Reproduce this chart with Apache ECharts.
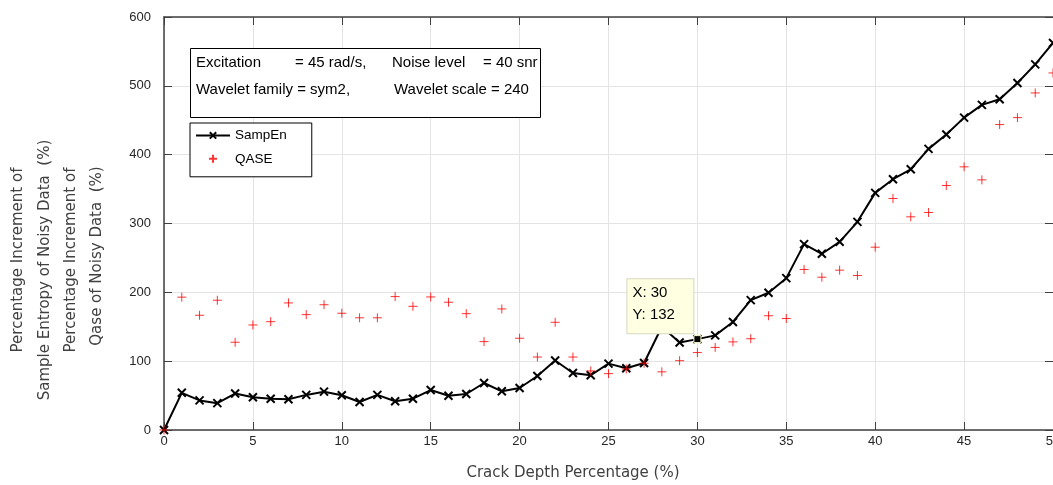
<!DOCTYPE html>
<html><head><meta charset="utf-8">
<script src="https://cdn.jsdelivr.net/npm/echarts/dist/echarts.min.js"></script>
<style>html,body{margin:0;padding:0;background:#fff}#c{width:1053px;height:485px}</style>
</head><body><div id="c"></div>
<script>
const crackDepth = [0,1,2,3,4,5,6,7,8,9,10,11,12,13,14,15,16,17,18,19,20,21,22,23,24,25,26,27,28,29,30,31,32,33,34,35,36,37,38,39,40,41,42,43,44,45,46,47,48,49,50];
const sampEn = [0,54,43,39,53,47.5,45.5,44.6,51,55.7,50.4,40.7,51,41.7,45.5,58,49.7,52.3,68.3,56.2,61,78.5,101,82.8,79.5,96.4,89.6,97.4,150,127,132,137.5,157,188.7,199.4,220.6,270,256,273.4,302.4,344.5,364.3,378.8,408.4,429.2,453.8,472.3,480.4,504.2,531.2,562.3];
const qase = [0,193,166.7,188.5,127.5,152.6,157.4,184.6,167.6,182,169.6,163,163,193.8,179.7,193.3,185.6,169,128.4,175.9,133.3,106,156.5,106,85.8,81.9,88.7,97,84.5,100.7,112.5,120,128,132.6,166,162,233.2,222,232.2,224.5,265.6,336.3,309.7,316,355.2,382.3,363.4,443.7,453.8,489.7,518.7];
const xTickMin = 0, xTickMax = 50, xTickStep = 5;
const yTickMin = 0, yTickMax = 600, yTickStep = 100;
const tipIndex = 30;
const seriesNames = ['SampEn', 'QASE'];
const yLabelLines = ['Percentage Increment of', 'Sample Entropy of Noisy Data  (%)', 'Percentage Increment of', 'Qase of Noisy Data  (%)'];
const xLabel = 'Crack Depth Percentage (%)';
const infoLine1 = ['Excitation', '= 45 rad/s,', 'Noise level', '= 40 snr'];
const infoLine2 = ['Wavelet family = sym2,', 'Wavelet scale = 240'];

const chart = echarts.init(document.getElementById('c'), null, {renderer: 'canvas'});
const axisCol = '#404040';
const gridCol = '#e4e4e4';
const tickFont = 'Liberation Sans, Arial, sans-serif';
const labelFont = 'DejaVu Sans, Verdana, sans-serif';

function xAx(pos, labels) {
  return {type: 'value', min: xTickMin, max: xTickMax, interval: xTickStep, position: pos,
    axisLine: {show: true, onZero: false, lineStyle: {color: axisCol, width: 1.5}},
    axisTick: {show: true, inside: true, length: 8, lineStyle: {color: axisCol, width: 1}},
    axisLabel: {show: labels, margin: 5, fontSize: 13, color: '#262626', fontFamily: tickFont, showMaxLabel: true, showMinLabel: true, hideOverlap: false},
    splitLine: {show: labels, lineStyle: {color: gridCol, width: 1}}};
}
function yAx(pos, labels) {
  return {type: 'value', min: yTickMin, max: yTickMax, interval: yTickStep, position: pos,
    axisLine: {show: labels, onZero: false, lineStyle: {color: axisCol, width: 1.5}},
    axisTick: {show: true, inside: true, length: 8, lineStyle: {color: axisCol, width: 1}},
    axisLabel: {show: labels, margin: 13, fontSize: 13, color: '#262626', fontFamily: tickFont},
    splitLine: {show: labels, lineStyle: {color: gridCol, width: 1}}};
}

const yLabelX = [18, 45, 71, 97];
const yLabelY = [260, 270, 260, 256];
const graphics = [];
yLabelLines.forEach((t, i) => graphics.push({type: 'text', x: yLabelX[i], y: yLabelY[i], rotation: Math.PI / 2,
  style: {text: t, font: '15px ' + labelFont, fill: '#404040', textAlign: 'center', textVerticalAlign: 'middle'}}));
graphics.push({type: 'text', x: 573, y: 473, style: {text: xLabel, font: '15px ' + labelFont, fill: '#404040', textAlign: 'center', textVerticalAlign: 'middle'}});
graphics.push({type: 'rect', shape: {x: 190.5, y: 48.5, width: 350, height: 69}, style: {fill: '#fff', stroke: '#000', lineWidth: 1}, z: 100});
const l1x = [196, 295, 392, 483];
infoLine1.forEach((t, i) => graphics.push({type: 'text', x: l1x[i], y: 63, z: 101, style: {text: t, font: '15px ' + tickFont, fill: '#000', textVerticalAlign: 'middle'}}));
const l2x = [196, 394];
infoLine2.forEach((t, i) => graphics.push({type: 'text', x: l2x[i], y: 90, z: 101, style: {text: t, font: '15px ' + tickFont, fill: '#000', textVerticalAlign: 'middle'}}));

chart.setOption({
  animation: false,
  backgroundColor: '#fff',
  grid: {left: 164, right: 0, top: 17, bottom: 55, containLabel: false, outerBoundsMode: 'none'},
  xAxis: [xAx('bottom', true), xAx('top', false)],
  yAxis: [yAx('left', true), yAx('right', false)],
  legend: {orient: 'vertical', left: 190, top: 123, itemWidth: 34, itemHeight: 16, itemGap: 7,
    padding: [5, 25, 9, 5], borderColor: '#000', borderWidth: 1, backgroundColor: '#fff', selectedMode: false,
    textStyle: {fontFamily: tickFont, fontSize: 13.5, color: '#000'}, data: seriesNames, z: 100},
  graphic: graphics,
  series: [
    {name: seriesNames[0], type: 'line', data: crackDepth.map((x, i) => [x, sampEn[i]]),
      symbol: 'path://M0,0M20,20M5,5L15,15M5,15L15,5', symbolSize: 16, showAllSymbol: true, silent: true,
      lineStyle: {color: '#000', width: 2},
      itemStyle: {color: '#000', borderColor: '#000', borderWidth: 2},
      z: 2,
      markPoint: {symbol: 'rect', symbolSize: 7, silent: true,
        itemStyle: {color: '#000', borderColor: '#ffffcc', borderWidth: 1},
        data: [{coord: [crackDepth[tipIndex], sampEn[tipIndex]]}],
        label: {show: true, position: [-66, -56], align: 'left', verticalAlign: 'top',
          formatter: 'X: ' + crackDepth[tipIndex] + '\nY: ' + sampEn[tipIndex],
          fontFamily: tickFont, fontSize: 15, color: '#000', lineHeight: 22, width: 56,
          backgroundColor: '#ffffe1', borderColor: '#d8d8c0', borderWidth: 1, padding: [3, 5, 7, 5]}}},
    {name: seriesNames[1], type: 'scatter', data: crackDepth.map((x, i) => [x, qase[i]]),
      symbol: 'path://M0,0M20,20M10,5L10,15M5,10L15,10', symbolSize: 18, symbolKeepAspect: true, silent: true,
      itemStyle: {color: 'transparent', borderColor: '#ff0000', borderWidth: 1},
      z: 3}
  ]
});
</script></body></html>
